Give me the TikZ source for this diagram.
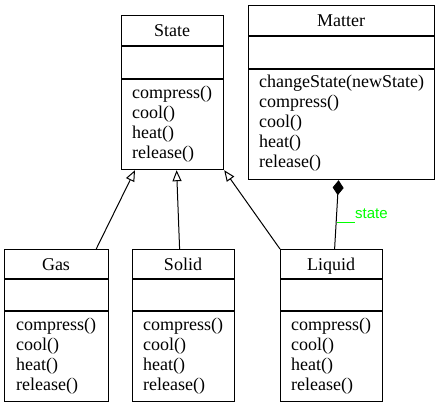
\documentclass[tikz,border=0pt]{standalone}
\usepackage{fontspec}
\setmainfont{Liberation Serif}
\newfontfamily\lblfont{Liberation Sans}
\usetikzlibrary{arrows.meta}
\definecolor{lblgreen}{HTML}{00FF00}
\tikzset{
  cls/.style={draw, line width=1.2pt, rectangle, inner sep=0pt, anchor=north west},
  div/.style={line width=1.2pt},
  ttl/.style={anchor=base, inner sep=0pt, font=\fontsize{18}{20}\selectfont},
  mth/.style={anchor=base west, inner sep=0pt, font=\fontsize{18}{20}\selectfont},
  inh/.style={line width=1pt, -{Triangle[open, length=11pt, width=9pt]}},
  comp/.style={line width=1pt, {Diamond[length=15pt, width=11pt]}-},
}
\begin{document}
\begin{tikzpicture}[x=1pt, y=-1pt]
\useasboundingbox (0,0) rectangle (441,408);
% State
\node[cls, minimum width=102pt, minimum height=154pt] (state) at (121,15) {};
\draw[div] (121,46) -- (223,46) (121,79) -- (223,79);
\node[ttl] (stateT) at (172,36) {State};
\foreach \t/\y [count=\i] in {compress()/98, cool()/118, heat()/138, release()/158}
  \node[mth] (stateM\i) at (132,\y) {\t};
% Matter
\node[cls, minimum width=186pt, minimum height=174pt] (matter) at (248,5) {};
\draw[div] (248,36) -- (434,36) (248,69) -- (434,69);
\node[ttl] (matterT) at (341,26) {Matter};
\foreach \t/\y [count=\i] in {changeState(newState)/87, compress()/107, cool()/127, heat()/147, release()/167}
  \node[mth] (matterM\i) at (259,\y) {\t};
% Gas
\node[cls, minimum width=104pt, minimum height=152pt] (gas) at (4,249) {};
\draw[div] (4,279) -- (108,279) (4,311) -- (108,311);
\node[ttl] (gasT) at (56,270) {Gas};
\foreach \t/\y [count=\i] in {compress()/330, cool()/350, heat()/370, release()/390}
  \node[mth] (gasM\i) at (16,\y) {\t};
% Solid
\node[cls, minimum width=102pt, minimum height=152pt] (solid) at (132,249) {};
\draw[div] (132,279) -- (234,279) (132,311) -- (234,311);
\node[ttl] (solidT) at (183,270) {Solid};
\foreach \t/\y [count=\i] in {compress()/330, cool()/350, heat()/370, release()/390}
  \node[mth] (solidM\i) at (143,\y) {\t};
% Liquid
\node[cls, minimum width=102pt, minimum height=152pt] (liquid) at (280,249) {};
\draw[div] (280,279) -- (382,279) (280,311) -- (382,311);
\node[ttl] (liquidT) at (331,270) {Liquid};
\foreach \t/\y [count=\i] in {compress()/330, cool()/350, heat()/370, release()/390}
  \node[mth] (liquidM\i) at (291,\y) {\t};
% Connectors
\draw[inh] ([xshift=-13pt]gas.north east) -- ([xshift=14pt]state.south west);
\draw[inh] ([xshift=-4pt]solid.north) -- ([xshift=4pt]state.south);
\draw[inh] (liquid.north west) -- (state.south east);
\draw[comp] ([xshift=-3pt]matter.south) -- ([xshift=3pt]liquid.north);
\coordinate (lblA) at (337,222);
\coordinate (lblB) at (355,222);
\draw[lblgreen, line width=0.8pt] (lblA) -- (lblB);
\node[anchor=base west, inner sep=0pt, text=lblgreen, font=\lblfont\fontsize{15}{18}\selectfont] (lbl) at (355,218) {state};
\end{tikzpicture}
\end{document}
